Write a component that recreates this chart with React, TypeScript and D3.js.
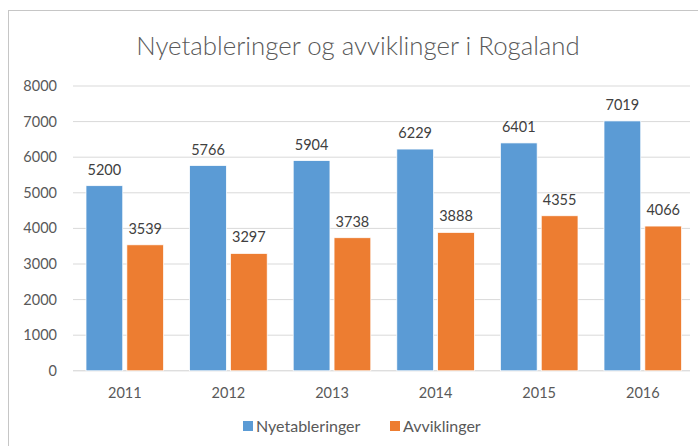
import React from "react";
import * as d3 from "d3";

const years = ["2011", "2012", "2013", "2014", "2015", "2016"];
const seriesNames = ["Nyetableringer", "Avviklinger"];
const nyetableringer = [5200, 5766, 5904, 6229, 6401, 7019];
const avviklinger = [3539, 3297, 3738, 3888, 4355, 4066];
const yTicks = [0, 1000, 2000, 3000, 4000, 5000, 6000, 7000, 8000];
const colors = ["#5B9BD5", "#ED7D31"];
const title = "Nyetableringer og avviklinger i Rogaland";

const W = 698;
const H = 446;
const FONT = "Lato, 'Open Sans', sans-serif";

export default function App() {
  const values = [nyetableringer, avviklinger];
  const x0 = d3.scaleBand<string>().domain(years).range([73, 694.6]);
  const step = x0.bandwidth();
  const x1 = d3
    .scaleBand<string>()
    .domain(seriesNames)
    .range([13, step - 13])
    .paddingInner(0.1);
  const y = d3.scaleLinear().domain([0, 8000]).range([370.8, 86]);

  return (
    <svg
      width={W}
      height={H}
      style={{ position: "absolute", left: 0, top: 0, background: "#fff" }}
    >
      <rect x={8.5} y={10.5} width={W + 10} height={H + 10} fill="#fff" stroke="#c6c6c6" strokeWidth={1} />
      <text
        x={358}
        y={55}
        textAnchor="middle"
        fontFamily={FONT}
        fontSize={25.8}
        fontWeight={300}
        fill="#595959"
      >
        {title}
      </text>
      {yTicks.map((t) => (
        <g key={t}>
          <line x1={73} x2={690} y1={y(t)} y2={y(t)} stroke={t === 0 ? "#d0d0d0" : "#d9d9d9"} strokeWidth={1} />
          <text
            x={57}
            y={y(t)}
            dy="0.35em"
            textAnchor="end"
            fontFamily={FONT}
            fontSize={14.5}
            fill="#595959"
          >
            {t}
          </text>
        </g>
      ))}
      {years.map((yr, i) => (
        <g key={yr} transform={`translate(${x0(yr)},0)`}>
          {seriesNames.map((s, j) => {
            const v = values[j][i];
            const bx = x1(s) as number;
            return (
              <g key={s}>
                <rect
                  x={bx}
                  y={y(v)}
                  width={x1.bandwidth()}
                  height={y(0) - y(v)}
                  fill={colors[j]}
                  stroke="#fff"
                  strokeWidth={0.75}
                />
                <text
                  x={bx + x1.bandwidth() / 2}
                  y={y(v) - 11}
                  textAnchor="middle"
                  fontFamily={FONT}
                  fontSize={14.5}
                  fill="#404040"
                >
                  {v}
                </text>
              </g>
            );
          })}
          <text
            x={step / 2}
            y={393}
            dy="0.35em"
            textAnchor="middle"
            fontFamily={FONT}
            fontSize={14.5}
            fill="#595959"
          >
            {yr}
          </text>
        </g>
      ))}
      {seriesNames.map((s, j) => {
        const lx = j === 0 ? 243 : 390;
        return (
          <g key={s}>
            <rect x={lx} y={421} width={10} height={10} fill={colors[j]} />
            <text
              x={lx + 13}
              y={426}
              dy="0.35em"
              fontFamily={FONT}
              fontSize={16}
              fill="#595959"
            >
              {s}
            </text>
          </g>
        );
      })}
    </svg>
  );
}
